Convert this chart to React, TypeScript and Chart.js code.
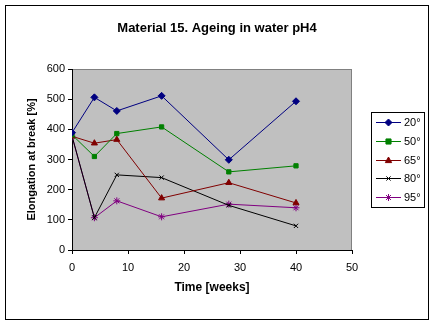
import React, { useEffect, useRef } from "react";
import { Chart, registerables } from "chart.js";

Chart.register(...registerables);

const weeks = [0, 4, 8, 16, 28, 40];
const s20 = [389, 506, 461, 511, 299, 493];
const s50 = [382, 310, 386, 408, 259, 279];
const s65 = [377, 354, 366, 172, 223, 156];
const s80 = [378, 107, 249, 240, 148, 80];
const s95 = [377, 107, 163, 110, 152, 140];
const seriesLabels = ["20°", "50°", "65°", "80°", "95°"];
const yTicks = [0, 100, 200, 300, 400, 500, 600];
const xTicks = [0, 10, 20, 30, 40, 50];

const FONT = "'Liberation Sans', Arial, sans-serif";

const styles = [
  { color: "#000080", point: "rectRot", r: 3.5 },
  { color: "#008000", point: "rect", r: 3 },
  { color: "#800000", point: "triangle", r: 3.5 },
  { color: "#000000", point: "crossRot", r: 3 },
  { color: "#800080", point: "star", r: 3.5 },
];

export default function App() {
  const ref = useRef<HTMLCanvasElement>(null);
  useEffect(() => {
    document.body.style.margin = "0";
    const values = [s20, s50, s65, s80, s95];
    const datasets = values.map((v, i) => ({
      label: seriesLabels[i],
      data: weeks.map((w, j) => ({ x: w, y: v[j] })),
      borderColor: styles[i].color,
      backgroundColor: styles[i].color,
      pointBorderColor: styles[i].color,
      pointBackgroundColor: styles[i].color,
      pointStyle: styles[i].point as any,
      pointRadius: styles[i].r,
      pointBorderWidth: 1,
      borderWidth: 1,
      tension: 0,
    }));

    function drawPoint(ctx: any, style: string, r: number, x: number, y: number, color: string) {
      ctx.save();
      ctx.fillStyle = color;
      ctx.strokeStyle = color;
      ctx.lineWidth = 1;
      ctx.beginPath();
      if (style === "rectRot") {
        ctx.moveTo(x, y - r); ctx.lineTo(x + r, y); ctx.lineTo(x, y + r); ctx.lineTo(x - r, y); ctx.closePath();
        ctx.fill(); ctx.stroke();
      } else if (style === "rect") {
        ctx.rect(x - r * 0.85, y - r * 0.85, r * 1.7, r * 1.7);
        ctx.fill(); ctx.stroke();
      } else if (style === "triangle") {
        ctx.moveTo(x, y - r); ctx.lineTo(x + r * 0.9, y + r * 0.6); ctx.lineTo(x - r * 0.9, y + r * 0.6); ctx.closePath();
        ctx.fill(); ctx.stroke();
      } else if (style === "crossRot") {
        const q = r * 0.7;
        ctx.moveTo(x - q, y - q); ctx.lineTo(x + q, y + q); ctx.moveTo(x + q, y - q); ctx.lineTo(x - q, y + q);
        ctx.stroke();
      } else if (style === "star") {
        const q = r * 0.7;
        ctx.moveTo(x - q, y - q); ctx.lineTo(x + q, y + q); ctx.moveTo(x + q, y - q); ctx.lineTo(x - q, y + q);
        ctx.moveTo(x, y - r); ctx.lineTo(x, y + r);
        ctx.stroke();
      }
      ctx.restore();
    }

    const decor = {
      id: "decor",
      beforeDraw(chart: any) {
        const ctx = chart.ctx;
        const a = chart.chartArea;
        ctx.save();
        ctx.fillStyle = "#ffffff";
        ctx.fillRect(0, 0, chart.width, chart.height);
        ctx.fillStyle = "#c0c0c0";
        ctx.fillRect(a.left, a.top, a.right - a.left, a.bottom - a.top);
        ctx.strokeStyle = "#808080";
        ctx.lineWidth = 1;
        ctx.strokeRect(a.left + 0.5, a.top + 0.5, a.right - a.left - 1, a.bottom - a.top);
        ctx.restore();
      },
      afterDraw(chart: any) {
        const ctx = chart.ctx;
        const a = chart.chartArea;
        ctx.save();
        ctx.strokeStyle = "#000000";
        ctx.lineWidth = 1;
        ctx.strokeRect(5.5, 5.5, 423, 314);
        ctx.fillStyle = "#000000";
        ctx.textAlign = "center";
        ctx.textBaseline = "middle";
        ctx.font = `bold 13px ${FONT}`;
        ctx.fillText("Material 15. Ageing in water pH4", 217, 28);
        ctx.font = `bold 12px ${FONT}`;
        ctx.fillText("Time [weeks]", (a.left + a.right) / 2, 288);
        ctx.font = `bold 11px ${FONT}`;
        ctx.save();
        ctx.translate(32, (a.top + a.bottom) / 2);
        ctx.rotate(-Math.PI / 2);
        ctx.fillText("Elongation at break [%]", 0, 0);
        ctx.restore();
        ctx.fillStyle = "#ffffff";
        ctx.fillRect(371, 112, 53, 95);
        ctx.strokeStyle = "#000000";
        ctx.strokeRect(371.5, 112.5, 53, 95);
        ctx.font = `11px ${FONT}`;
        ctx.textAlign = "left";
        datasets.forEach((d: any, i: number) => {
          const y = Math.round(122 + i * 18.8) + 0.5;
          ctx.strokeStyle = d.borderColor;
          ctx.lineWidth = 1;
          ctx.beginPath();
          ctx.moveTo(376, y);
          ctx.lineTo(401, y);
          ctx.stroke();
          drawPoint(ctx, d.pointStyle, d.pointRadius, 388.5, y, d.borderColor);
          ctx.fillStyle = "#000000";
          ctx.fillText(d.label, 404, y + 0.5);
        });
        ctx.restore();
      },
    };

    const chart = new Chart(ref.current!, {
      type: "line",
      data: { datasets },
      options: {
        animation: false,
        responsive: false,
        devicePixelRatio: 1,
        layout: { padding: { left: 0, top: 69, right: 83, bottom: 0 } },
        plugins: { legend: { display: false }, tooltip: { enabled: false }, title: { display: false } },
        scales: {
          x: {
            type: "linear",
            min: 0,
            max: 50,
            afterBuildTicks: (s: any) => { s.ticks = xTicks.map((v) => ({ value: v })); },
            grid: { drawOnChartArea: false, tickLength: 4, color: "#000000" },
            border: { color: "#000000" },
            ticks: { font: { family: FONT, size: 11 }, color: "#000000", padding: 7, maxRotation: 0 },
            afterFit: (s: any) => { s.height = 75; },
          },
          y: {
            min: 0,
            max: 600,
            afterBuildTicks: (s: any) => { s.ticks = yTicks.map((v) => ({ value: v })); },
            grid: { drawOnChartArea: false, tickLength: 4, color: "#000000" },
            border: { color: "#000000" },
            ticks: { font: { family: FONT, size: 11 }, color: "#000000", padding: 3 },
            afterFit: (s: any) => { s.width = 72; },
          },
        },
      } as any,
      plugins: [decor],
    });
    return () => chart.destroy();
  }, []);
  return <canvas ref={ref} width={435} height={325} style={{ display: "block" }} />;
}
